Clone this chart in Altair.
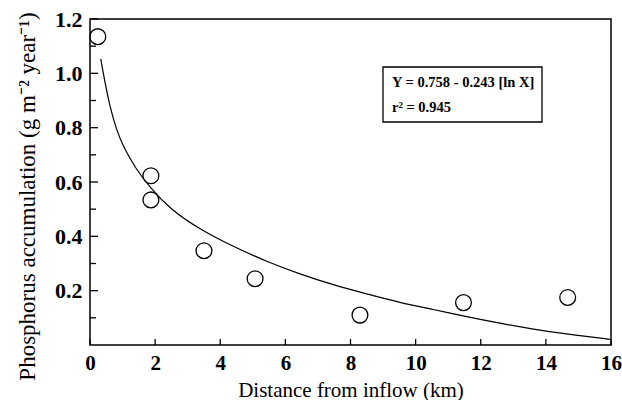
import altair as alt
import pandas as pd

# Measured phosphorus accumulation along the distance from the inflow
site_km = [0.24, 1.87, 1.87, 3.50, 5.07, 8.29, 11.47, 14.67]
p_accum = [1.135, 0.623, 0.534, 0.347, 0.244, 0.110, 0.156, 0.175]

# Fitted logarithmic curve, sampled along the distance axis
fit_km = [0.33, 0.43, 0.61, 0.82, 1.02, 1.40, 1.84, 2.46, 3.38, 4.40, 5.43, 6.45,
          7.47, 8.50, 9.52, 10.54, 11.57, 12.59, 13.62, 14.64, 15.97]
fit_p = [1.053, 0.985, 0.877, 0.790, 0.730, 0.650, 0.580, 0.500, 0.425, 0.362, 0.307,
         0.261, 0.221, 0.188, 0.156, 0.131, 0.104, 0.080, 0.058, 0.040, 0.021]

x_ticks = [0, 2, 4, 6, 8, 10, 12, 14, 16]
y_major = [0.2, 0.4, 0.6, 0.8, 1.0, 1.2]
y_minor = [0.1, 0.3, 0.5, 0.7, 0.9, 1.1]

equation = "Y = 0.758 - 0.243 [ln X]"
r_squared = "r² = 0.945"

SERIF = "Liberation Serif"
W, H = 521, 326

points_df = pd.DataFrame({"km": site_km, "p": p_accum})
fit_df = pd.DataFrame({"km": fit_km, "p": fit_p})

x_scale = alt.Scale(domain=[0, 16], nice=False, zero=False)
y_scale = alt.Scale(domain=[0, 1.2], nice=False, zero=False)

x_axis = alt.Axis(
    values=x_ticks, tickSize=0, domain=False, grid=False,
    labelFont=SERIF, labelFontSize=21, labelFontWeight="bold", labelColor="black",
    labelPadding=7, labelFlush=False,
    title="Distance from inflow (km)", titleFont=SERIF, titleFontSize=21,
    titleFontWeight="normal", titleColor="black",
    titleBaseline="alphabetic", titleY=51,
)
y_axis = alt.Axis(
    values=y_major, tickSize=0, domain=False, grid=False, format=".1f",
    labelFont=SERIF, labelFontSize=22, labelFontWeight="bold", labelColor="black",
    labelPadding=8, labelFlush=False,
    title="Phosphorus accumulation (g m⁻² year⁻¹)", titleFont=SERIF,
    titleFontSize=23, titleFontWeight="normal", titleColor="black",
    titleX=-63, titleY=177, titleBaseline="middle", titleAlign="center", titleAngle=270,
)

curve = alt.Chart(fit_df).mark_line(
    color="black", strokeWidth=1.2, interpolate="basis"
).encode(
    x=alt.X("km:Q", scale=x_scale, axis=x_axis),
    y=alt.Y("p:Q", scale=y_scale, axis=y_axis),
)

circles = alt.Chart(points_df).mark_point(
    shape="circle", filled=False, size=250, stroke="black", strokeWidth=1.3, opacity=1
).encode(
    x=alt.X("km:Q", scale=x_scale),
    y=alt.Y("p:Q", scale=y_scale),
)

# Inward tick marks on both axes
x_tick_marks = alt.Chart(pd.DataFrame({"v": x_ticks})).mark_rule(
    color="black", strokeWidth=1.3
).encode(
    x=alt.X("v:Q", scale=x_scale),
    y=alt.value(H), y2=alt.value(H - 6),
)
y_major_marks = alt.Chart(pd.DataFrame({"v": y_major})).mark_rule(
    color="black", strokeWidth=1.3
).encode(
    y=alt.Y("v:Q", scale=y_scale),
    x=alt.value(0), x2=alt.value(8),
)
y_minor_marks = alt.Chart(pd.DataFrame({"v": y_minor})).mark_rule(
    color="black", strokeWidth=1.3
).encode(
    y=alt.Y("v:Q", scale=y_scale),
    x=alt.value(0), x2=alt.value(6),
)

# Equation box
one_row = alt.Data(values=[{"k": 1}])
box = alt.Chart(one_row).mark_rect(
    fill="white", stroke="black", strokeWidth=1.3
).encode(
    x=alt.value(293), x2=alt.value(452),
    y=alt.value(48), y2=alt.value(103),
)
eq_text = alt.Chart(one_row).mark_text(
    align="left", baseline="middle", font=SERIF, fontSize=14.5,
    fontWeight="bold", color="black"
).encode(
    x=alt.value(302), y=alt.value(64), text=alt.value(equation),
)
r2_text = alt.Chart(one_row).mark_text(
    align="left", baseline="middle", font=SERIF, fontSize=14.5,
    fontWeight="bold", color="black"
).encode(
    x=alt.value(302), y=alt.value(89), text=alt.value(r_squared),
)

chart = alt.layer(
    curve, circles, x_tick_marks, y_major_marks, y_minor_marks, box, eq_text, r2_text
).properties(
    width=W, height=H,
    padding={"left": 90, "top": 19, "right": 11, "bottom": 55},
    autosize=alt.AutoSizeParams(type="none"),
    background="white",
).configure_view(
    stroke="black", strokeWidth=1.5
)

chart.save("out.html", embed_options={"renderer": "svg", "actions": False})
